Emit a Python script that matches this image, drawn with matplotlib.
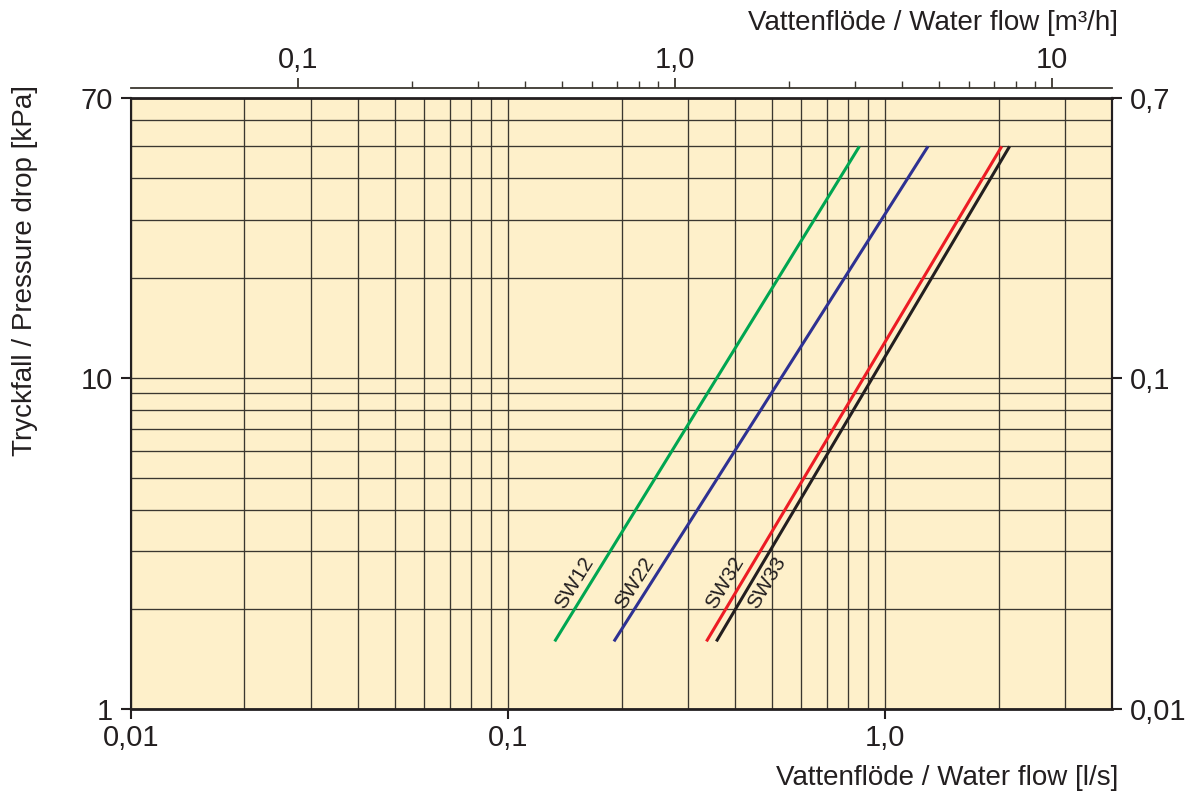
import matplotlib
matplotlib.use("Agg")
import matplotlib.pyplot as plt
from matplotlib.ticker import FixedLocator, NullFormatter
import numpy as np
import math

plt.rcParams['font.family'] = ['Liberation Sans', 'DejaVu Sans']

# ===============================
# Data
# ===============================
models = ["SW12", "SW22", "SW32", "SW33"]
colors = ["#00a651", "#2e3192", "#ed1c24", "#231f20"]
label_side = [-1, -1, -1, 1]          # label left (-1) or right (+1) of its line

dp_kpa = [1.6, 50.0]                  # pressure drop at both ends of each line
flow_sw12 = [0.133, 0.855]            # l/s
flow_sw22 = [0.191, 1.30]
flow_sw32 = [0.336, 2.04]
flow_sw33 = [0.357, 2.14]
flows = [flow_sw12, flow_sw22, flow_sw32, flow_sw33]

x_ticks = [0.01, 0.1, 1.0]
x_ticklabels = ["0,01", "0,1", "1,0"]
y_ticks = [1, 10, 70]
y_ticklabels = ["1", "10", "70"]
top_ticks = [0.1, 1.0, 10]
top_ticklabels = ["0,1", "1,0", "10"]
right_ticks = [0.01, 0.1, 0.7]
right_ticklabels = ["0,01", "0,1", "0,7"]

x_grid = [0.02, 0.03, 0.04, 0.05, 0.06, 0.07, 0.08, 0.09,
          0.2, 0.3, 0.4, 0.5, 0.6, 0.7, 0.8, 0.9, 2, 3]
y_grid = [2, 3, 4, 5, 6, 7, 8, 9, 20, 30, 40, 50, 60]
top_minor = [0.2, 0.3, 0.4, 0.5, 0.6, 0.7, 0.8, 0.9, 2, 3, 4, 5, 6, 7, 8, 9]

label_dp = 2.4

# ===============================
# Figure
# ===============================
fig = plt.figure(figsize=(11.91, 7.96), dpi=100)
ax = fig.add_axes([131 / 1191, 87 / 796, 981 / 1191, 611 / 796])
ax.set_facecolor("#fef0ca")
ax.set_xscale("log")
ax.set_yscale("log")
ax.set_xlim(0.01, 4.0)
ax.set_ylim(1, 70)

ax.set_xticks(x_ticks, x_ticklabels)
ax.set_yticks(y_ticks, y_ticklabels)
ax.xaxis.set_minor_locator(FixedLocator(x_grid))
ax.yaxis.set_minor_locator(FixedLocator(y_grid))
ax.xaxis.set_minor_formatter(NullFormatter())
ax.yaxis.set_minor_formatter(NullFormatter())
ax.tick_params(which="major", direction="out", length=7, width=1.5,
               labelsize=21, color="#231f20", labelcolor="#231f20")
ax.tick_params(axis="x", which="major", pad=4)
ax.tick_params(axis="y", which="major", pad=6)
ax.tick_params(which="minor", length=0)
ax.grid(True, which="both", color="#3b372f", lw=0.95)

for side in ["top", "bottom"]:
    ax.spines[side].set_linewidth(2.0)
for side in ["left", "right"]:
    ax.spines[side].set_linewidth(1.5)
for s in ax.spines.values():
    s.set_color("#231f20")

# curves
for name, q, c, side in zip(models, flows, colors, label_side):
    ax.plot(q, dp_kpa, color=c, lw=2.2, solid_capstyle="butt", zorder=3)

# line labels, rotated along the line
for name, q, c, side in zip(models, flows, colors, label_side):
    p0 = ax.transData.transform((q[0], dp_kpa[0]))
    p1 = ax.transData.transform((q[1], dp_kpa[1]))
    ang = math.degrees(math.atan2(p1[1] - p0[1], p1[0] - p0[0]))
    qx = 10 ** np.interp(np.log10(label_dp), np.log10(dp_kpa), np.log10(q))
    ax.annotate(name, (qx, label_dp), xytext=(side * 16, 0),
                textcoords="offset pixels", rotation=ang,
                rotation_mode="anchor", ha="center", va="center",
                fontsize=15, color="#231f20", zorder=4)

# top axis: m3/h
secx = ax.secondary_xaxis("top", functions=(lambda q: q * 3.6, lambda m: m / 3.6))
secx.spines["top"].set_position(("outward", 7.5))
secx.spines["top"].set_linewidth(1.3)
secx.spines["top"].set_color("#3b372f")
secx.set_xticks(top_ticks, top_ticklabels)
secx.xaxis.set_minor_locator(FixedLocator(top_minor))
secx.xaxis.set_minor_formatter(NullFormatter())
secx.tick_params(which="major", direction="out", length=7, width=1.3,
                 labelsize=21, pad=3, color="#3b372f", labelcolor="#231f20")
secx.tick_params(which="minor", direction="out", length=5, width=1.0,
                 color="#3b372f")

# right axis
secy = ax.secondary_yaxis("right", functions=(lambda p: p / 100, lambda h: h * 100))
secy.set_yticks(right_ticks, right_ticklabels)
secy.yaxis.set_minor_locator(FixedLocator([]))
secy.tick_params(which="major", direction="out", length=7, width=1.5,
                 labelsize=21, pad=6, color="#231f20", labelcolor="#231f20")
secy.spines["right"].set_linewidth(1.5)

# axis titles
fig.text(1118 / 1191, 1 - 778 / 796, "Vattenflöde / Water flow [l/s]",
         ha="right", va="center", fontsize=20, color="#231f20")
fig.text(1118 / 1191, 1 - 23 / 796, "Vattenflöde / Water flow [m³/h]",
         ha="right", va="center", fontsize=20, color="#231f20")
fig.text(25 / 1191, 1 - 271 / 796, "Tryckfall / Pressure drop [kPa]",
         ha="center", va="center", rotation=90, fontsize=20, color="#231f20")

fig.savefig("out.png", dpi=100)
